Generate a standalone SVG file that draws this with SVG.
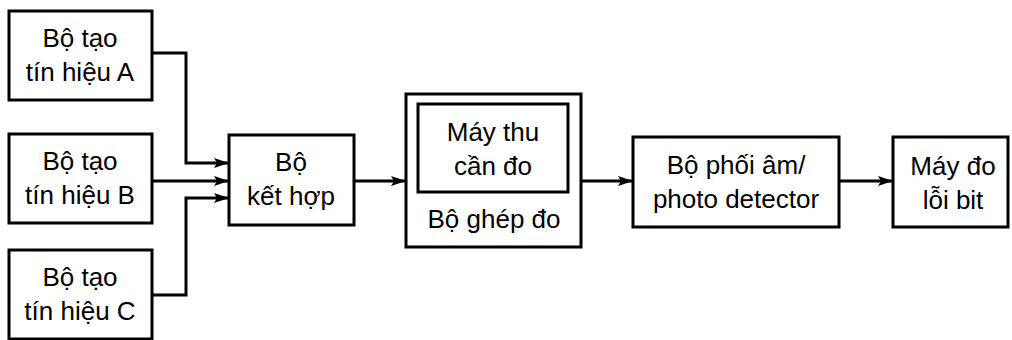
<svg xmlns="http://www.w3.org/2000/svg" width="1012" height="340" viewBox="0 0 1012 340">
<style>
.box{fill:#fff;stroke:#000;stroke-width:3}
.t{font-family:"Liberation Sans",Arial,sans-serif;font-size:26px;fill:#000;text-anchor:middle}
.ln{fill:none;stroke:#000;stroke-width:3}
</style>
<defs>
<marker id="ar" markerWidth="15" markerHeight="10" refX="15" refY="5" orient="auto" markerUnits="userSpaceOnUse">
<path d="M0,0 L15,5 L0,10 L3,5 Z" fill="#000"/>
</marker>
</defs>
<rect width="1012" height="340" fill="#fff"/>
<g id="genA">
<rect class="box" x="9" y="11" width="143" height="89"/>
<text class="t" x="80" y="47">Bộ tạo</text>
<text class="t" x="80" y="81">tín hiệu A</text>
</g>
<g id="genB">
<rect class="box" x="9" y="134" width="143" height="89"/>
<text class="t" x="80" y="170">Bộ tạo</text>
<text class="t" x="80" y="204">tín hiệu B</text>
</g>
<g id="genC">
<rect class="box" x="9" y="250" width="143" height="89"/>
<text class="t" x="80" y="286">Bộ tạo</text>
<text class="t" x="80" y="320">tín hiệu C</text>
</g>
<g id="combiner">
<rect class="box" x="229" y="135" width="125" height="90"/>
<text class="t" x="291" y="171">Bộ</text>
<text class="t" x="291" y="205">kết hợp</text>
</g>
<g id="coupler">
<rect class="box" x="406" y="94" width="175" height="153"/>
<rect class="box" x="418" y="104" width="150" height="88"/>
<text class="t" x="493" y="141">Máy thu</text>
<text class="t" x="493" y="175">cần đo</text>
<text class="t" x="494" y="228">Bộ ghép đo</text>
</g>
<g id="mixer">
<rect class="box" x="633" y="137" width="206" height="90"/>
<text class="t" x="736" y="174">Bộ phối âm/</text>
<text class="t" x="736" y="208">photo detector</text>
</g>
<g id="ber">
<rect class="box" x="893" y="137" width="115" height="90"/>
<text class="t" x="953" y="175">Máy đo</text>
<text class="t" x="953" y="209">lỗi bit</text>
</g>
<g id="connectors">
<path class="ln" d="M152,53 H186 V163 H229" marker-end="url(#ar)"/>
<path class="ln" d="M152,181 H229" marker-end="url(#ar)"/>
<path class="ln" d="M152,295 H186 V198 H229" marker-end="url(#ar)"/>
<path class="ln" d="M354,181 H406" marker-end="url(#ar)"/>
<path class="ln" d="M581,181 H633" marker-end="url(#ar)"/>
<path class="ln" d="M839,181 H893" marker-end="url(#ar)"/>
</g>
</svg>
